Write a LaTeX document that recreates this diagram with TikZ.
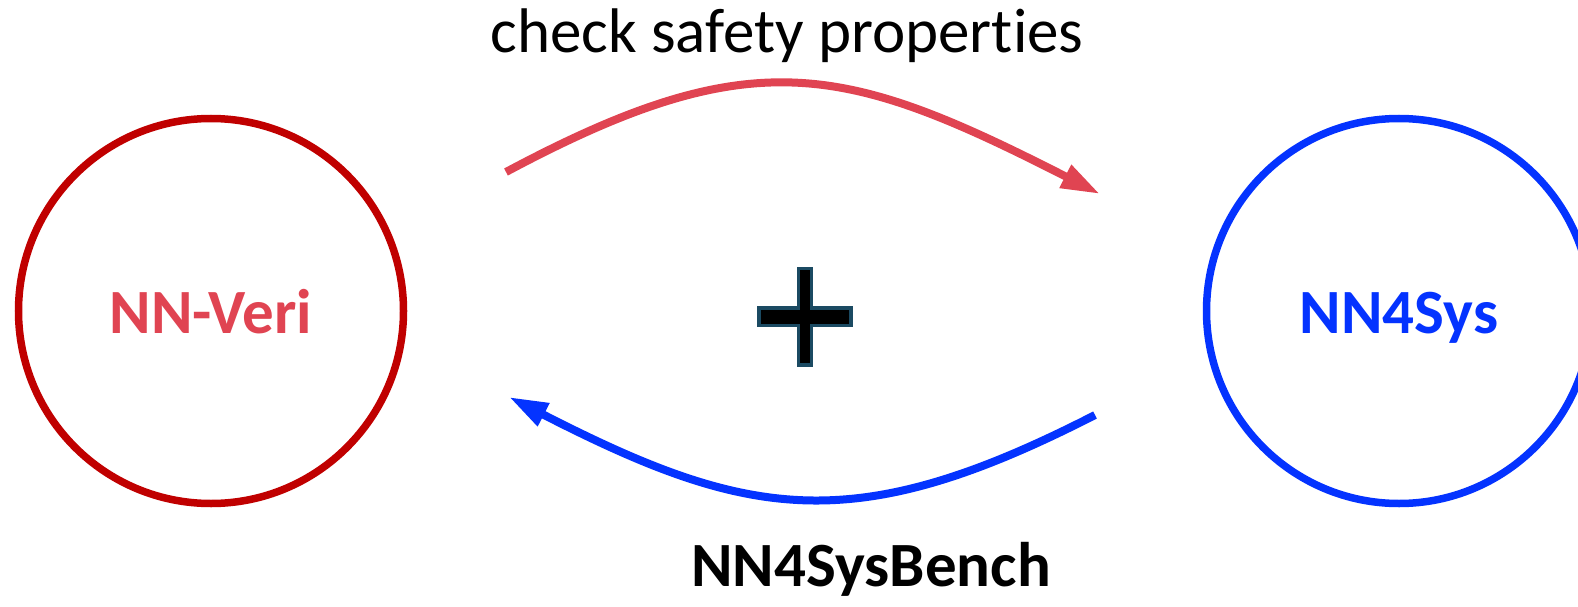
\documentclass[tikz,border=0pt]{standalone}
\usepackage{fontspec}
\setmainfont{Carlito}[Ligatures={NoCommon}]
\usetikzlibrary{arrows.meta}
\definecolor{veriring}{HTML}{C00000}
\definecolor{verired}{HTML}{E04452}
\definecolor{sysblue}{HTML}{0433FF}
\definecolor{plusedge}{HTML}{1B4A62}
\begin{document}
\begin{tikzpicture}[x=1pt, y=-1pt,
  ring/.style={circle, draw, line width=7.5pt, minimum size=385pt, inner sep=0pt,
    font=\fontsize{63}{70}\selectfont\bfseries, text height=44pt, text depth=0pt},
  flow/.style={line width=8pt, -{Triangle[length=39pt, width=24pt]}},
  caption/.style={anchor=base, inner sep=0pt, text=black}]
  \useasboundingbox (0,0) rectangle (1578,607);

  % the two components
  \node[ring, draw=veriring, text=verired] (veri) at (211,311) {NN-Veri};
  \node[ring, draw=sysblue, text=sysblue] (sys) at (1399,311) {NN4Sys};

  % labels of the two flows (the kern keeps "t" and "i" as separate glyphs)
  \node[caption, font=\fontsize{63}{70}\selectfont] (checklbl) at (787,52.7) {check safety propert\kern0pt ies};
  \node[caption, font=\fontsize{63}{70}\selectfont\bfseries] (benchlbl) at (871,586) {NN4SysBench};

  % end points of the curved flows
  \coordinate (topstart) at (506,172);
  \coordinate (topend) at (1100,194);
  \coordinate (botstart) at (1095,415);
  \coordinate (botend) at (509,397);

  \draw[flow, verired] (topstart) .. controls (753,40) and (845,64) .. (topend);
  \draw[flow, sysblue] (botstart) .. controls (855,538) and (749,520) .. (botend);

  % plus sign between the flows
  \filldraw[fill=black, draw=plusedge, line width=3.5pt]
    (798.5,268.5) -- (811.5,268.5) -- (811.5,308) -- (851,308) -- (851,325.5)
    -- (811.5,325.5) -- (811.5,365) -- (798.5,365) -- (798.5,325.5)
    -- (759,325.5) -- (759,308) -- (798.5,308) -- cycle;
\end{tikzpicture}
\end{document}
